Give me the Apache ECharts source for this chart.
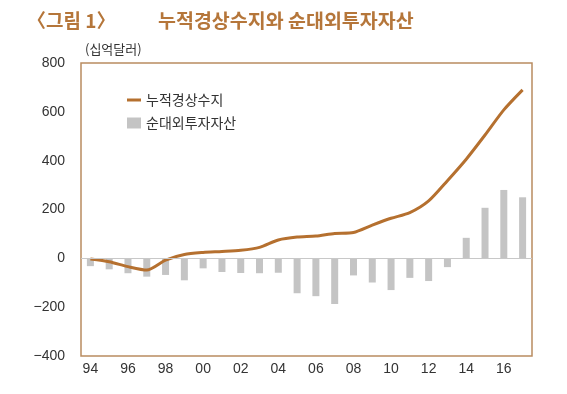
<!DOCTYPE html>
<html><head><meta charset="utf-8">
<script src="https://cdn.jsdelivr.net/npm/echarts@6/dist/echarts.min.js"></script>
<style>html,body{margin:0;padding:0;background:#fff}#c{width:567px;height:394px}</style>
</head><body><div id="c"></div>
<script>
const years = ['94','95','96','97','98','99','00','01','02','03','04','05','06','07','08','09','10','11','12','13','14','15','16','17'];
const cumCurrentAccount = [-3,-14,-34,-48,-7,16,24,28,33,45,75,87,91,102,106,136,164,187,235,318,406,505,608,690];
const netForeignAssets = [-32,-45,-61,-75,-68,-90,-41,-56,-60,-61,-59,-143,-155,-187,-70,-99,-130,-80,-93,-36,84,207,280,250];
const yTicks = {min:-400, max:800, interval:200};
const titleLeft = '〈그림 1〉';
const titleMain = '누적경상수지와 순대외투자자산';
const unitLabel = '(십억달러)';
const seriesNames = ['누적경상수지','순대외투자자산'];

const font = '"Noto Sans CJK KR", "Noto Sans", sans-serif';
const numFont = '"Liberation Sans", Arial, sans-serif';
const chart = echarts.init(document.getElementById('c'), null, {renderer:'canvas'});
chart.setOption({
  animation:false,
  textStyle:{fontFamily:font},
  title:[
    {text:titleLeft, left:22, top:6, textStyle:{color:'#B5763A', fontSize:19, fontWeight:'bold', fontFamily:font}},
    {text:titleMain, left:153, top:6, textStyle:{color:'#B5763A', fontSize:19.5, fontWeight:'bold', fontFamily:font}},
    {text:unitLabel, left:80, top:38, textStyle:{color:'#333', fontSize:13, fontWeight:'normal', fontFamily:font}}
  ],
  legend:{
    left:122, top:88, orient:'vertical', itemGap:9, itemWidth:14, itemHeight:11,
    textStyle:{color:'#333', fontSize:14, fontFamily:font},
    data:[
      {name:seriesNames[0], icon:'path://M0,4 L14,4 L14,7 L0,7 Z', itemStyle:{color:'#B5702F'}},
      {name:seriesNames[1], icon:'rect', itemStyle:{color:'#C4C4C4'}}
    ]
  },
  grid:{left:81, right:35, top:63, bottom:38, show:true, borderColor:'#B98C60', borderWidth:1.5, backgroundColor:'transparent'},
  xAxis:{
    type:'category', data:years, boundaryGap:true,
    axisLine:{show:false, onZero:false},
    axisTick:{show:false},
    axisLabel:{interval:1, color:'#333', fontSize:14, margin:6, fontFamily:numFont}
  },
  yAxis:{
    type:'value', min:yTicks.min, max:yTicks.max, interval:yTicks.interval,
    axisLine:{show:false}, axisTick:{show:false}, splitLine:{show:false},
    axisLabel:{color:'#333', fontSize:14, margin:16, fontFamily:numFont,
      formatter:v=> v<0 ? '\u2212'+Math.abs(v) : String(v)}
  },
  series:[
    {name:seriesNames[1], type:'bar', data:netForeignAssets, barWidth:7, itemStyle:{color:'#C4C4C4'}, z:2,
      markLine:{silent:true, symbol:'none', label:{show:false}, lineStyle:{color:'#C8C8C8', width:1, type:'solid'}, data:[{yAxis:0}]}},
    {name:seriesNames[0], type:'line', data:cumCurrentAccount, smooth:0.25, symbol:'none',
      lineStyle:{color:'#B5702F', width:3}, itemStyle:{color:'#B5702F'}, z:3}
  ]
});
</script></body></html>
